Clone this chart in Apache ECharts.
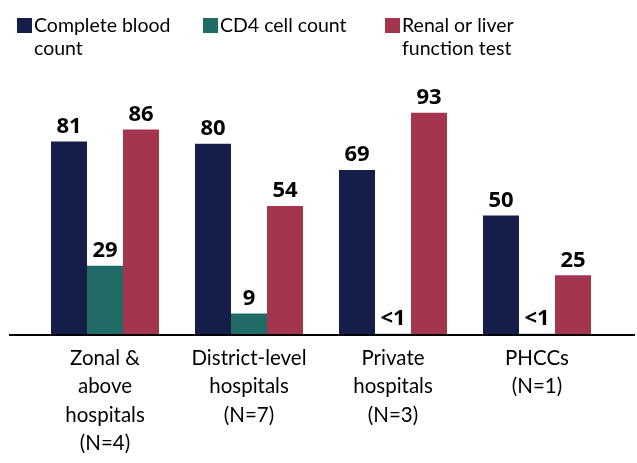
<!DOCTYPE html>
<html><head><meta charset="utf-8">
<script src="https://cdn.jsdelivr.net/npm/echarts@6/dist/echarts.min.js"></script>
<style>html,body{margin:0;padding:0;background:#fff}#c{width:637px;height:463px}</style>
</head><body><div id="c"></div>
<script>
var categories = ['Zonal &\nabove\nhospitals\n(N=4)', 'District-level\nhospitals\n(N=7)', 'Private\nhospitals\n(N=3)', 'PHCCs\n(N=1)'];
var seriesNames = ['Complete blood count', 'CD4 cell count', 'Renal or liver function test'];
var legendLabels = [' \nComplete blood\ncount', ' \nCD4 cell count\n ', ' \nRenal or liver\nfunction test'];
var cbc = [81, 80, 69, 50];
var cd4 = [29, 9, 0.5, 0.5];
var cd4Labels = ['29', '9', '<1', '<1'];
var renal = [86, 54, 93, 25];
var colors = ['#141E48', '#216B66', '#A3354F'];
var FONT = 'Lato';

var chart = echarts.init(document.getElementById('c'));
var labelStyle = {show: true, position: 'top', distance: 4, color: '#000', fontSize: 22, fontWeight: 'bold', fontFamily: 'Noto Sans'};
function legend(i, left) {
  return {
    data: [{name: seriesNames[i]}], left: left, top: -9, padding: 0, itemWidth: 15, itemHeight: 15,
    icon: 'rect', selectedMode: false,
    formatter: function () { return legendLabels[i]; },
    textStyle: {fontSize: 19.5, fontFamily: FONT, color: '#000', lineHeight: 23, padding: [0, 0, 0, -3]}
  };
}
chart.setOption({
  animation: false,
  color: colors,
  textStyle: {fontFamily: FONT},
  legend: [legend(0, 17), legend(1, 203), legend(2, 385)],
  grid: {left: 33, right: 28, top: 96, bottom: 128},
  xAxis: {
    type: 'category', data: categories,
    axisLine: {show: false}, axisTick: {show: false},
    axisLabel: {color: '#000', fontSize: 20.5, lineHeight: 28.5, margin: 9, interval: 0, fontFamily: FONT}
  },
  yAxis: {type: 'value', min: 0, max: 100, show: false, splitLine: {show: false}},
  series: [
    {name: seriesNames[0], type: 'bar', data: cbc, barGap: 0, barCategoryGap: '25%', label: labelStyle},
    {name: seriesNames[1], type: 'bar', data: cd4, barGap: 0, barCategoryGap: '25%',
     label: Object.assign({}, labelStyle, {formatter: function (p) { return cd4Labels[p.dataIndex]; }})},
    {name: seriesNames[2], type: 'bar', data: renal, barGap: 0, barCategoryGap: '25%', label: labelStyle}
  ]
});
var y0 = chart.convertToPixel({yAxisIndex: 0}, 0);
chart.setOption({graphic: [{type: 'line', shape: {x1: 9, y1: y0, x2: 635, y2: y0}, style: {stroke: '#000', lineWidth: 2}, z: 10}]});
</script></body></html>
